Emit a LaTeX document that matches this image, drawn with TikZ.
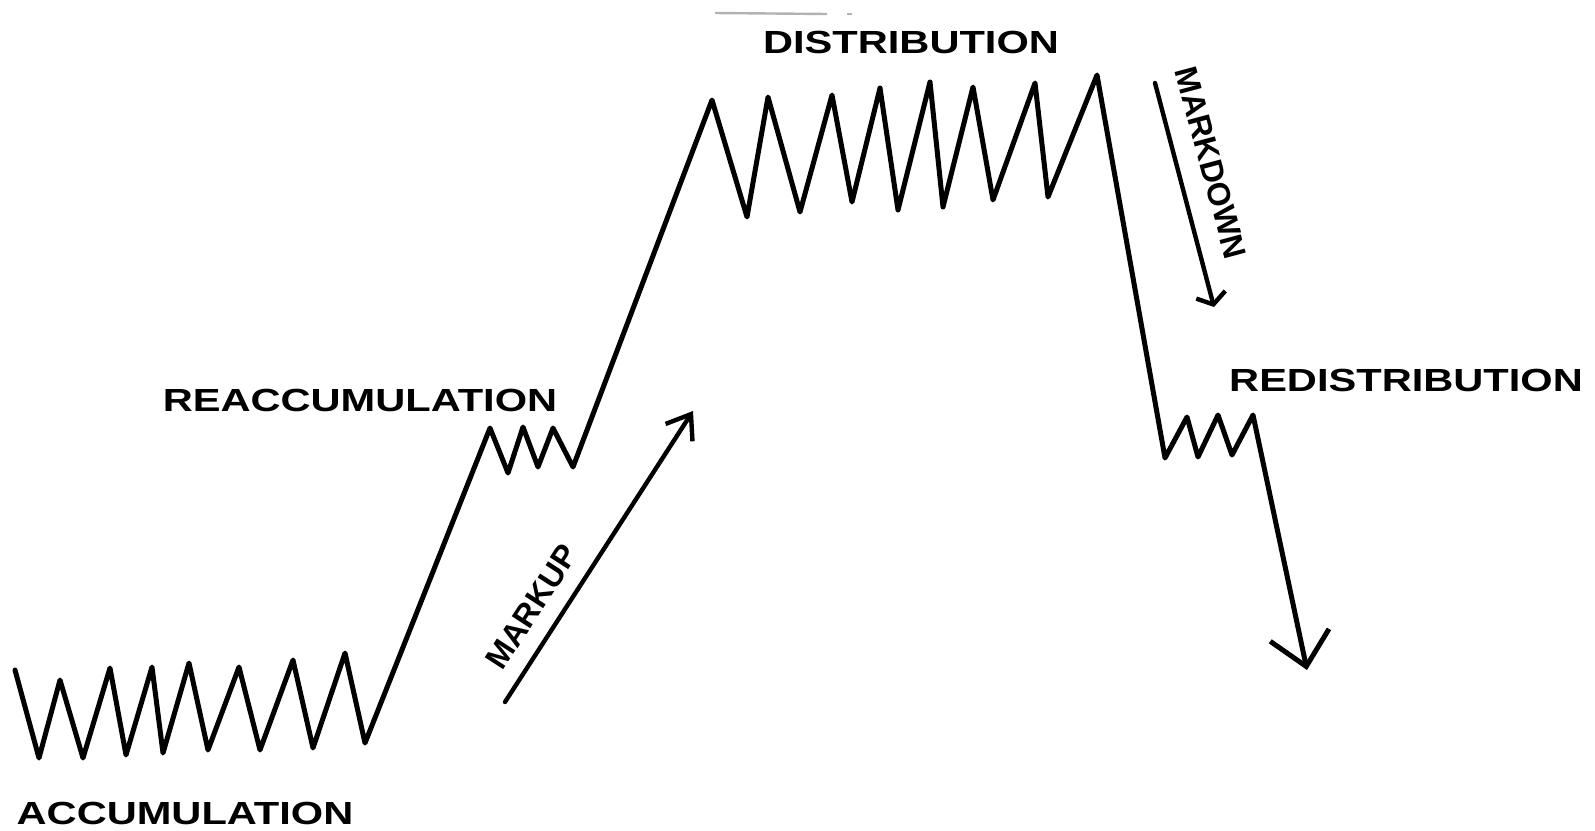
\documentclass[tikz,border=0pt]{standalone}
\usepackage{fontspec}
\setmainfont{Liberation Sans}
\newfontfamily\labwide[FakeStretch=1.3]{Liberation Sans}
\usetikzlibrary{arrows.meta}
\begin{document}
\begin{tikzpicture}[x=0.5pt,y=-0.5pt,
  price/.style={line width=2.5pt,line join=round,line cap=round},
  phase/.style={font=\labwide\bfseries\fontsize{16}{16}\selectfont,inner sep=0pt},
  move/.style={font=\bfseries\fontsize{16}{16}\selectfont,inner sep=0pt},
  trend/.style={line width=2.2pt,line cap=round}]
\useasboundingbox (0,0) rectangle (1595,830);
% faint stroke at top
\draw[gray!60,line width=1.2pt] (715,13) -- (827,14);
\draw[gray!60,line width=1.2pt] (847,14) -- (852,14);
% price path
\draw[price,-{Straight Barb[length=16pt,width=30pt,line width=2.5pt]}]
  (15,670) -- (39,758) -- (60,680) -- (83,758) -- (110,668) -- (126,755)
  -- (152,667) -- (163,753) -- (189,663) -- (208,750) -- (239,667)
  -- (260,750) -- (293,660) -- (313,748) -- (345,653) -- (365,743)
  -- (490,428) -- (508,473) -- (523,427) -- (538,467) -- (553,428) -- (573,467)
  -- (712,100) -- (747,217) -- (768,97) -- (800,212) -- (832,95) -- (852,202)
  -- (880,88) -- (898,210) -- (930,82) -- (943,207) -- (973,87) -- (993,200)
  -- (1035,83) -- (1048,197) -- (1097,75)
  -- (1165,458) -- (1187,417) -- (1198,457) -- (1218,415) -- (1232,455) -- (1253,415)
  -- (1307,670);
% labels
\node[phase] (dist) at (911,42) {DISTRIBUTION};
\node[phase] (reacc) at (360,400) {REACCUMULATION};
\node[phase] (acc) at (185,813) {ACCUMULATION};
\node[phase] (redist) at (1406,380) {REDISTRIBUTION};
% markup arrow
\coordinate (mu0) at (505,702);
\coordinate (mu1) at (693,411);
\draw[trend,-{Straight Barb[length=11pt,width=16pt,line width=2.2pt]}] (mu0) -- (mu1);
\node[move,rotate=57] (markup) at (532,607) {MARKUP};
% markdown arrow
\coordinate (md0) at (1155,83);
\coordinate (md1) at (1214,307);
\draw[trend,-{Straight Barb[length=5pt,width=15pt,line width=2.2pt]}] (md0) -- (md1);
\node[move,rotate=-75] (markdown) at (1211,163) {MARKDOWN};
\end{tikzpicture}
\end{document}
